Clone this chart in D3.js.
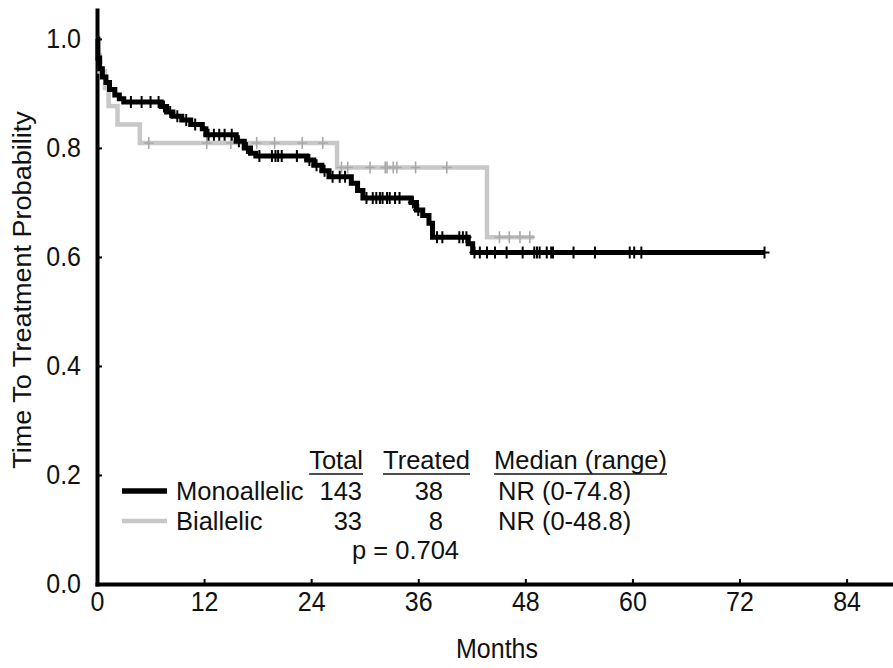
<!DOCTYPE html>
<html>
<head>
<meta charset="utf-8">
<script src="https://cdn.jsdelivr.net/npm/d3@7"></script>
<style>
body { margin: 0; background: #fff; }
text { font-family: "Liberation Sans", Arial, sans-serif; fill: #111; }
</style>
</head>
<body>
<svg class="chart"></svg>
<script>
// data (months / survival)
var monoTimes = [0.1, 0.3, 0.6, 1.0, 1.4, 2.0, 2.5, 3.0, 7.2, 7.8, 8.5, 9.5, 10.5, 11.8, 12.2,
  15.6, 16.5, 17.2, 17.8, 23.5, 24.3, 25.2, 26.0, 28.5, 29.2, 29.8, 35.2, 35.8, 36.5, 37.2, 37.6, 41.6, 42.1];
var monoSurv = [0.965, 0.945, 0.93, 0.92, 0.907, 0.897, 0.89, 0.884, 0.876, 0.866, 0.858, 0.851, 0.843, 0.835, 0.824,
  0.812, 0.80, 0.79, 0.785, 0.778, 0.768, 0.758, 0.747, 0.735, 0.722, 0.708, 0.70, 0.686, 0.676, 0.662, 0.636, 0.624, 0.608];
var monoCensor = [3.8, 5.0, 6.0, 6.9, 7.5, 8.2, 9.0, 10.0, 11.0, 12.5, 13.1, 13.7, 14.3, 15.1, 15.9, 16.8,
  18.2, 19.6, 20.0, 20.3, 20.7, 22.4, 23.8, 24.6, 25.5, 26.4, 27.2, 27.8, 30.2, 30.9, 31.3, 31.7, 32.0, 32.5,
  32.8, 33.4, 33.9, 35.4, 36.0, 38.1, 38.7, 40.6, 41.0, 41.4, 42.3, 42.9, 43.7, 44.6, 45.9, 47.7, 49.0, 49.3,
  49.6, 50.4, 50.9, 51.1, 53.4, 55.8, 59.7, 60.2, 61.0, 74.8];
var monoEnd = 74.8;

var biTimes = [0.1, 0.3, 0.9, 1.3, 2.3, 4.8, 26.9, 43.7];
var biSurv = [0.97, 0.94, 0.91, 0.877, 0.843, 0.809, 0.764, 0.636];
var biCensor = [5.8, 12.3, 15.0, 17.9, 19.9, 23.0, 25.3, 27.4, 28.1, 30.6, 32.3, 32.5, 33.2, 33.6, 35.7, 39.2,
  45.1, 46.2, 47.4, 48.5];
var biEnd = 49.0;

var xTicks = [0, 12, 24, 36, 48, 60, 72, 84];
var yTicks = [0, 0.2, 0.4, 0.6, 0.8, 1.0];

var legendHead = ["Total", "Treated", "Median (range)"];
var legendNames = ["Monoallelic", "Biallelic"];
var legendTotal = [143, 33];
var legendTreated = [38, 8];
var legendMedian = ["NR (0-74.8)", "NR (0-48.8)"];
var pValue = "p = 0.704";

var gwidth = 893, gheight = 668;
var SY = 1.1; // axis text is a little taller than wide in the picture
var FS = 25;

var svg = d3.select(".chart")
  .attr("width", gwidth)
  .attr("height", gheight)
  .style("background-color", "#fff");

var x = d3.scaleLinear().domain([0, 89.2]).range([97, 893]);
var y = d3.scaleLinear().domain([0, 1.053]).range([584, 10]);

function stretchText(sel) {
  sel.each(function() {
    var t = d3.select(this);
    var yy = +t.attr("y") || 0;
    t.attr("y", yy / SY).attr("transform", "scale(1," + SY + ")");
  });
}

// axes
var xAxis = d3.axisBottom(x).tickValues(xTicks).tickSize(-5).tickSizeOuter(0).tickPadding(7);
var yAxis = d3.axisLeft(y).tickValues(yTicks).tickSize(-5).tickSizeOuter(0).tickPadding(16)
  .tickFormat(d3.format(".1f"));

var xaxis = svg.append("g").attr("class", "x axis")
  .attr("transform", "translate(0," + y(0) + ")")
  .call(xAxis);
var yaxis = svg.append("g").attr("class", "y axis")
  .attr("transform", "translate(" + x(0) + ",0)")
  .call(yAxis);

svg.selectAll(".axis .domain").attr("stroke", "#000").attr("stroke-width", 4).attr("stroke-linecap", "square");
svg.selectAll(".axis .tick line").attr("stroke", "#000").attr("stroke-width", 2);
svg.selectAll(".axis .tick text").attr("font-size", FS).attr("fill", "#111")
  .style("font-family", "'Liberation Sans', Arial, sans-serif");
stretchText(xaxis.selectAll(".tick text"));
stretchText(yaxis.selectAll(".tick text"));

// axis titles
svg.append("g").attr("transform", "translate(497,648)")
  .append("text").attr("transform", "scale(1," + SY + ")")
  .attr("text-anchor", "middle").attr("dy", "0.35em").attr("font-size", FS)
  .text("Months");
svg.append("g").attr("transform", "translate(22,290) rotate(-90)")
  .append("text").attr("transform", "scale(1.04,1)")
  .attr("text-anchor", "middle").attr("dy", "0.35em").attr("font-size", 26)
  .text("Time To Treatment Probability");

// KM curves
function kmPoints(times, surv, end) {
  var pts = [[0, 1]];
  times.forEach(function(t, i) { pts.push([t, surv[i]]); });
  pts.push([end, surv[surv.length - 1]]);
  return pts;
}
function survAt(times, surv, t) {
  var s = 1;
  for (var i = 0; i < times.length; i++) { if (times[i] <= t) s = surv[i]; }
  return s;
}
var line = d3.line()
  .x(function(d) { return x(d[0]); })
  .y(function(d) { return y(d[1]); })
  .curve(d3.curveStepAfter);

var series = [
  {times: biTimes, surv: biSurv, censor: biCensor, end: biEnd, color: "#c8c8c8", mark: "#a9a9a9", w: 4.5, mw: 1.6},
  {times: monoTimes, surv: monoSurv, censor: monoCensor, end: monoEnd, color: "#000", mark: "#000", w: 5, mw: 2}
];

var chartBody = svg.append("g").attr("id", "chartBody");
series.forEach(function(s) {
  chartBody.append("path")
    .datum(kmPoints(s.times, s.surv, s.end))
    .attr("fill", "none")
    .attr("stroke", s.color)
    .attr("stroke-width", s.w)
    .attr("d", line);
  chartBody.selectAll(null).data(s.censor).enter()
    .append("path")
    .attr("transform", function(d) { return "translate(" + x(d) + "," + y(survAt(s.times, s.surv, d)) + ")"; })
    .attr("d", "M-5,0H5M0,-6V6")
    .attr("fill", "none")
    .attr("stroke", s.mark)
    .attr("stroke-width", s.mw);
});

// legend table
var LFS = 25.5;
var legend = svg.append("g").attr("class", "legend");
function addText(px, py, str, anchor) {
  return legend.append("text")
    .attr("x", px).attr("y", py)
    .attr("text-anchor", anchor || "start")
    .attr("font-size", LFS)
    .text(str);
}
var headX = [363, 470, 667];
legendHead.forEach(function(h, i) {
  var t = addText(headX[i], 469, h, "end");
  var w = t.node().getComputedTextLength();
  legend.append("line")
    .attr("x1", headX[i] - w).attr("x2", headX[i])
    .attr("y1", 474).attr("y2", 474)
    .attr("stroke", "#111").attr("stroke-width", 1.6);
});
var rowY = [500, 530];
legendNames.forEach(function(n, i) {
  legend.append("line")
    .attr("x1", 122).attr("x2", 167)
    .attr("y1", rowY[i] - 9).attr("y2", rowY[i] - 9)
    .attr("stroke", series[1 - i].color)
    .attr("stroke-width", i === 0 ? 5.5 : 4.5);
  addText(176, rowY[i], n);
  addText(362, rowY[i], legendTotal[i], "end");
  addText(443, rowY[i], legendTreated[i], "end");
  addText(498, rowY[i], legendMedian[i]);
});
addText(352, 559, pValue);
</script>
</body>
</html>
